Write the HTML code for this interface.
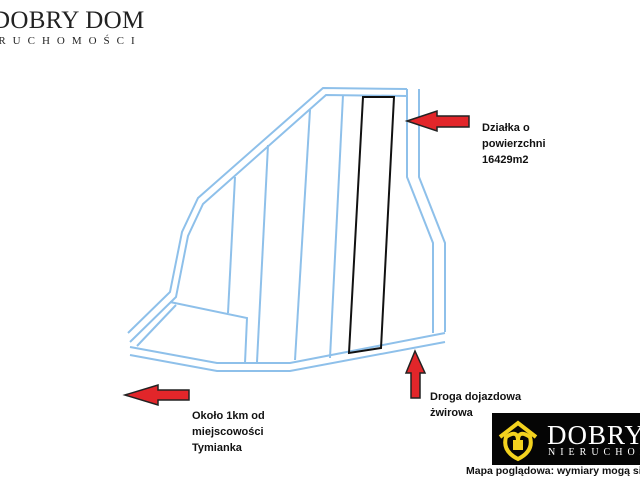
<!DOCTYPE html>
<html><head><meta charset="utf-8"><style>
html,body{margin:0;width:640px;height:480px;overflow:hidden;background:#fff}
#w{position:relative;width:640px;height:480px;overflow:hidden;font-family:"Liberation Sans",sans-serif}
.t{position:absolute;font-weight:bold;font-size:11px;line-height:16px;color:#111;white-space:nowrap}
</style></head><body><div id="w">
<div style="position:absolute;left:-8px;top:7px;font-family:'Liberation Serif',serif;font-size:25px;line-height:27px;color:#222;letter-spacing:0.3px;white-space:nowrap">DOBRY DOM</div>
<div style="position:absolute;left:-41px;top:35px;font-family:'Liberation Serif',serif;font-size:11px;line-height:12px;color:#222;letter-spacing:7px;white-space:nowrap">NIERUCHOMOŚCI</div>
<svg width="640" height="480" style="position:absolute;left:0;top:0">
<g fill="none" stroke="#8ec0ea" stroke-width="2">
<polyline points="407,89 323,88 198,198 182,232 170,292 128,333"/>
<polyline points="407,96 326,95 203,204 188,236 176,297 130,342"/>
<polyline points="407,89 407,177 433,243 433,333"/>
<polyline points="419,89 419,177 445,243 445,332"/>
<polyline points="130,347 217,363 290,363 445,333"/>
<polyline points="130,355 217,371 290,371 445,342"/>
<line x1="343" y1="95" x2="330" y2="358"/>
<line x1="310" y1="110" x2="295" y2="360"/>
<line x1="268" y1="145" x2="257" y2="362"/>
<line x1="235" y1="177" x2="228" y2="313"/>
<polyline points="170,302 247,318 245,363"/>
<line x1="176" y1="305" x2="137" y2="346"/>
</g>
<polygon points="363,97 394,97 381,348 349,353" fill="none" stroke="#111" stroke-width="2"/>
<g fill="#e2262a" stroke="#222" stroke-width="1.5">
<polygon points="407,121 437,111 437,116 469,116 469,127 437,127 437,131"/>
<polygon points="125,395 158,385 158,390 189,390 189,400 158,400 158,405"/>
<polygon points="415,351 425,373 420,373 420,398 411,398 411,373 406,373"/>
</g>
</svg>
<div class="t" style="left:482px;top:120px">Działka o<br>powierzchni<br>16429m2</div>
<div class="t" style="left:430px;top:389px">Droga dojazdowa<br>żwirowa</div>
<div class="t" style="left:192px;top:408px">Około 1km od<br>miejscowości<br>Tymianka</div>
<div style="position:absolute;left:492px;top:413px;width:148px;height:52px;background:#050505;overflow:hidden">
<svg width="48" height="48" style="position:absolute;left:4px;top:2px">
<path d="M4,22 L22,8 L40,22" fill="none" stroke="#f3d21e" stroke-width="4"/>
<path d="M10,22 Q22,14 22,26 Q22,14 34,22 Q38,36 22,44 Q6,36 10,22Z" fill="none" stroke="#f3d21e" stroke-width="4"/>
<rect x="17" y="25" width="10" height="10" fill="#f3d21e"/>
</svg>
<div style="position:absolute;left:55px;top:9px;font-family:'Liberation Serif',serif;font-size:27px;line-height:27px;color:#fff;letter-spacing:1px;white-space:nowrap">DOBRY DOM</div>
<div style="position:absolute;left:56px;top:35px;font-family:'Liberation Serif',serif;font-size:10px;line-height:10px;color:#fff;letter-spacing:5px;white-space:nowrap">NIERUCHOMOŚCI</div>
</div>
<div class="t" style="left:466px;top:463px;font-size:10.5px">Mapa poglądowa: wymiary mogą się różnić</div>
</div></body></html>
